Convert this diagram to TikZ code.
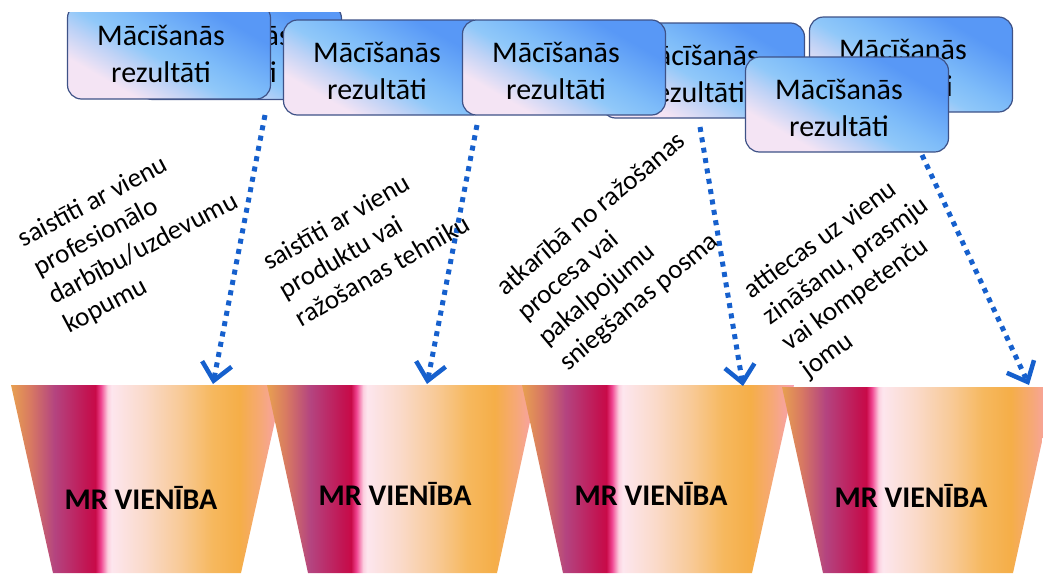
\documentclass[tikz,border=0pt]{standalone}
\usepackage{fontspec}
\setmainfont{Carlito}
\usetikzlibrary{arrows.meta,calc}
\definecolor{arrowblue}{RGB}{22,96,205}
\definecolor{boxborder}{RGB}{62,82,135}
\definecolor{bxA}{RGB}{244,228,244}
\definecolor{bxB}{RGB}{190,210,246}
\definecolor{bxC}{RGB}{144,200,249}
\definecolor{bxD}{RGB}{126,188,249}
\definecolor{bxE}{RGB}{88,152,246}
\definecolor{mA}{RGB}{232,160,80}
\definecolor{mAb}{RGB}{216,122,98}
\definecolor{mB}{RGB}{180,68,128}
\definecolor{mC}{RGB}{194,20,82}
\definecolor{mCb}{RGB}{200,10,72}
\definecolor{mD}{RGB}{240,68,144}
\definecolor{mE}{RGB}{252,208,224}
\definecolor{mEb}{RGB}{253,230,238}
\definecolor{mF}{RGB}{250,218,202}
\definecolor{mG}{RGB}{248,202,152}
\definecolor{mH}{RGB}{246,184,94}
\definecolor{mI}{RGB}{245,174,72}
\definecolor{mJ}{RGB}{246,168,120}
\definecolor{mK}{RGB}{248,160,180}
\pgfdeclarehorizontalshading{mrshade}{100bp}{color(0bp)=(mA); color(25bp)=(mA); color(28.5bp)=(mAb); color(33bp)=(mB); color(39bp)=(mC); color(40.5bp)=(mCb); color(41.5bp)=(mD); color(42.75bp)=(mE); color(43.5bp)=(mEb); color(49.5bp)=(mF); color(56bp)=(mG); color(62bp)=(mH); color(67bp)=(mI); color(71bp)=(mJ); color(75bp)=(mK); color(100bp)=(mK)}
\pgfdeclareverticalshading{boxshade}{100bp}{color(0bp)=(bxA); color(29bp)=(bxA); color(39bp)=(bxB); color(46bp)=(bxC); color(54bp)=(bxD); color(71bp)=(bxE); color(100bp)=(bxE)}
\tikzset{
  mrbox/.style={draw=boxborder, line width=1.2pt, rounded corners=14pt,
    minimum width=203pt, minimum height=95pt, inner sep=0pt,
    shading=boxshade, shading angle=-30},
  mrtext/.style={font=\fontsize{30}{37}\selectfont, align=center, inner sep=0pt},
  unit/.style={shading=mrshade},
  unittext/.style={font=\fontsize{30}{36}\selectfont\bfseries, inner sep=0pt, anchor=base},
  flow/.style={draw=arrowblue, line width=5pt, dash pattern=on 5pt off 5.5pt,
    -{Straight Barb[length=17pt,width=30pt,line width=4.5pt]}},
  note/.style={font=\fontsize{27}{32.5}\selectfont, align=left, inner sep=0pt, anchor=center}
}
\begin{document}
\begin{tikzpicture}[x=1pt,y=-1pt]
\useasboundingbox (0,0) rectangle (1043,573);
\begin{scope}
\clip (0,12) rectangle (1043,573);
% learning outcome boxes (back to front)
\node[mrbox] (bB) at (240,52) {};
\node[mrtext] (tB) at ($(bB.center)+(-13,2)$) {Mācīšanās\\rezultāti};
\node[mrbox] (bA) at (169,51.5) {};
\node[mrtext] (tA) at ($(bA.center)+(-8,2)$) {Mācīšanās\\rezultāti};
\node[mrbox] (bC) at (385,67.5) {};
\node[mrtext] (tC) at ($(bC.center)+(-8,3)$) {Mācīšanās\\rezultāti};
\node[mrbox] (bE) at (703,70.5) {};
\node[mrtext] (tE) at ($(bE.center)+(-8,3)$) {Mācīšanās\\rezultāti};
\node[mrbox] (bD) at (564,67.5) {};
\node[mrtext] (tD) at ($(bD.center)+(-8,3)$) {Mācīšanās\\rezultāti};
\node[mrbox] (bF) at (911,64.5) {};
\node[mrtext] (tF) at ($(bF.center)+(-8,3)$) {Mācīšanās\\rezultāti};
\node[mrbox] (bG) at (847,104.5) {};
\node[mrtext] (tG) at ($(bG.center)+(-8,3)$) {Mācīšanās\\rezultāti};
% MR units
\shade[unit] (11,385) -- (283,385) -- (241,573) -- (53,573) -- cycle;
\shade[unit] (267,385) -- (538,385) -- (497,573) -- (308,573) -- cycle;
\shade[unit] (522,385) -- (794,385) -- (752,573) -- (563,573) -- cycle;
\shade[unit] (782,387) -- (1054,387) -- (1013,573) -- (823,573) -- cycle;
\node[unittext] (u1) at (141,509) {MR VIENĪBA};
\node[unittext] (u2) at (395,505) {MR VIENĪBA};
\node[unittext] (u3) at (651,505) {MR VIENĪBA};
\node[unittext] (u4) at (911,507) {MR VIENĪBA};
% arrows
\coordinate (s1) at (265,115);
\coordinate (e1) at (213,384);
\coordinate (s2) at (477,125);
\coordinate (e2) at (427,384);
\coordinate (s3) at (700,127);
\coordinate (e3) at (743,386);
\coordinate (s4) at (922,155);
\coordinate (e4) at (1029,385);
\draw[flow] (s1) -- (e1);
\draw[flow] (s2) -- (e2);
\draw[flow] (s3) -- (e3);
\draw[flow] (s4) -- (e4);
% rotated labels
\node[note, rotate=28] (n1) at (136,235) {saistīti ar vienu\\profesionālo\\darbību/uzdevumu\\kopumu};
\node[note, rotate=30] (n2) at (366,242) {saistīti ar vienu\\produktu vai\\ražošanas tehniku};
\node[note, rotate=40] (n3) at (623,252) {atkarībā no ražošanas\\procesa vai\\pakalpojumu\\sniegšanas posma};
\node[note, rotate=36] (n4) at (856,275) {attiecas uz vienu\\zināšanu, prasmju\\vai kompetenču\\jomu};
\end{scope}
\end{tikzpicture}
\end{document}
